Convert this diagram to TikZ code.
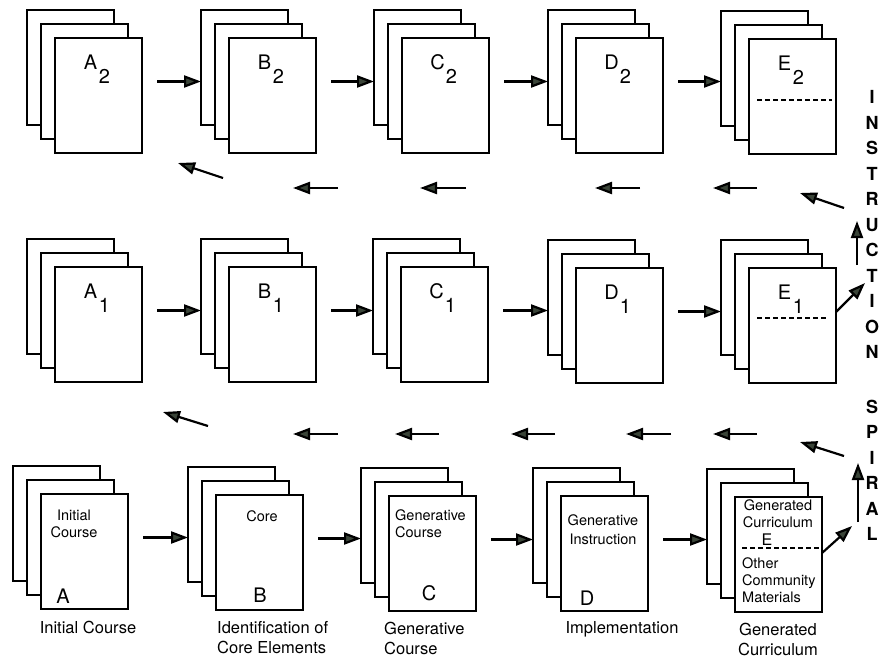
\documentclass[tikz,border=0pt]{standalone}
\usepackage{fontspec}
\setmainfont{TeX Gyre Heros}
\usetikzlibrary{arrows.meta}

\definecolor{headgray}{RGB}{58,68,56}

\tikzset{
  sheet/.style={draw, fill=white, line width=2.2pt, anchor=north west,
    minimum width=87pt, minimum height=115pt, inner sep=0pt, outer sep=0pt},
  flow/.style={line width=2.2pt, -{Triangle[length=17pt,width=12pt,fill=headgray]}},
  cut/.style={line width=1.6pt, dash pattern=on 5pt off 3pt},
  letter/.style={font=\fontsize{20}{20}\selectfont, inner sep=0pt},
  boxtext/.style={font=\fontsize{14.5}{17}\selectfont, inner sep=0pt},
  legend/.style={font=\fontsize{16.5}{20}\selectfont, inner sep=0pt},
  spine/.style={font=\bfseries\fontsize{18}{25.5}\selectfont, inner sep=0pt, align=center},
}

% three sheets, back one at the given top left corner
\newcommand{\docstack}[3]{%
  \node[sheet] (#1-k) at (#2,#3) {};
  \node[sheet] (#1-m) at (#2+14,#3+14) {};
  \node[sheet] (#1) at (#2+28,#3+28) {};
}
% letter with a dropped index on the front sheet
\newcommand{\subtag}[3]{%
  \node[letter] (#1-l) at ([shift={(-8,24)}]#1.north) {#2};
  \node[letter] (#1-i) at ([shift={(6,38)}]#1.north) {#3};
}

\begin{document}
\begin{tikzpicture}[x=1pt,y=-1pt]
\useasboundingbox (0,0) rectangle (884,658);

% second pass
\docstack{A2}{27}{10}
\docstack{B2}{201}{10}
\docstack{C2}{374}{10}
\docstack{D2}{548}{10}
\docstack{E2}{721}{11}
\foreach \n/\t in {A2/A,B2/B,C2/C,D2/D,E2/E} {
    \subtag{\n}{\t}{2}
}
\draw[cut] ([shift={(8,61)}]E2.north west) -- ([shift={(-4,61)}]E2.north east);

% first pass
\docstack{A1}{27}{239}
\docstack{B1}{201}{239}
\docstack{C1}{373}{239}
\docstack{D1}{548}{240}
\docstack{E1}{721}{240}
\foreach \n/\t in {A1/A,B1/B,C1/C,D1/D,E1/E} {
    \subtag{\n}{\t}{1}
}
\draw[cut] ([shift={(8,50)}]E1.north west) -- ([shift={(-9,50)}]E1.north east);

% starting pass
\docstack{A}{13}{466}
\docstack{B}{188}{467}
\docstack{C}{361}{468}
\docstack{D}{533}{468}
\docstack{E}{707}{469}

\node[boxtext, align=center] (a-txt) at ([shift={(33,30)}]A.north west) {Initial\\Course};
\node[letter] (a-tag) at ([shift={(22,102)}]A.north west) {A};
\node[boxtext] (b-txt) at ([shift={(46,21)}]B.north west) {Core};
\node[letter] (b-tag) at ([shift={(44,100)}]B.north west) {B};
\node[boxtext, align=left, anchor=west] (c-txt) at ([shift={(6,28)}]C.north west) {Generative\\Course};
\node[letter] (c-tag) at ([shift={(40,97)}]C.north west) {C};
\node[boxtext, align=center, font=\fontsize{14.5}{19}\selectfont] (d-txt) at ([shift={(42,34)}]D.north west) {Generative\\Instruction};
\node[letter] (d-tag) at ([shift={(26,102)}]D.north west) {D};
\node[boxtext, align=center] (e-txt) at ([shift={(43,17)}]E.north west) {Generated\\Curriculum};
\node[letter, font=\fontsize{16}{16}\selectfont] (e-tag) at ([shift={(32,43)}]E.north west) {E};
\draw[cut] ([shift={(7,51)}]E.north west) -- ([yshift=-51pt]E.north east);
\node[boxtext, align=left, anchor=west] (e-more) at ([shift={(7,83)}]E.north west) {Other\\Community\\Materials};

% stage names
\node[legend] (n-a) at (88,627) {Initial Course};
\node[legend, align=left, anchor=west] (n-b) at (217,638) {Identification of\\Core Elements};
\node[legend, align=left, anchor=west] (n-c) at (384,638) {Generative\\Course};
\node[legend] (n-d) at (622,629) {Implementation};
\node[legend, align=center] (n-e) at (778,639) {Generated\\Curriculum};

% arrows along each pass
\foreach \p/\q in {A2/B2,B2/C2,C2/D2,D2/E2,A1/B1,B1/C1,C1/D1,D1/E1,A/B,B/C,C/D,D/E} {
    \draw[flow] ([xshift=29pt]\p-m.east) -- (\q-k.west |- \p-m.east);
}

% arrows going back between the passes
\foreach \xa/\xb [count=\i] in {338/293,466/420,640/595,757/713} {
    \coordinate (up\i-s) at (\xa,188);
    \coordinate (up\i-e) at (\xb,188);
    \draw[flow] (up\i-s) -- (up\i-e);
}
\foreach \xa/\xb [count=\i] in {338/293,439/395,555/511,671/626,757/713} {
    \coordinate (lo\i-s) at (\xa,434);
    \coordinate (lo\i-e) at (\xb,434);
    \draw[flow] (lo\i-s) -- (lo\i-e);
}
\coordinate (up-ls) at (223,178);
\coordinate (up-le) at (178,163);
\coordinate (up-rs) at (844,208);
\coordinate (up-re) at (800,193);
\coordinate (lo-ls) at (208,426);
\coordinate (lo-le) at (163,412);
\coordinate (lo-rs) at (844,456);
\coordinate (lo-re) at (800,442);
\draw[flow] (up-ls) -- (up-le);
\draw[flow] (up-rs) -- (up-re);
\draw[flow] (lo-ls) -- (lo-le);
\draw[flow] (lo-rs) -- (lo-re);

% out of the last stack and up the spiral
\coordinate (turn1) at (865,283);
\coordinate (turn0) at (852,526);
\draw[flow] ([yshift=13.5pt]E1.east) -- (turn1);
\draw[flow] ([yshift=1.5pt]E.east) -- (turn0);
\coordinate (rise1-s) at (857,265);
\coordinate (rise1-e) at (857,221);
\coordinate (rise0-s) at (858,522);
\coordinate (rise0-e) at (858,463);
\draw[flow] (rise1-s) -- (rise1-e);
\draw[flow] (rise0-s) -- (rise0-e);

% side words
\node[spine] (w-instr) at (872,224.5) {I\\N\\S\\T\\R\\U\\C\\T\\I\\O\\N};
\node[spine] (w-spiral) at (872,470.5) {S\\P\\I\\R\\A\\L};

\end{tikzpicture}
\end{document}
